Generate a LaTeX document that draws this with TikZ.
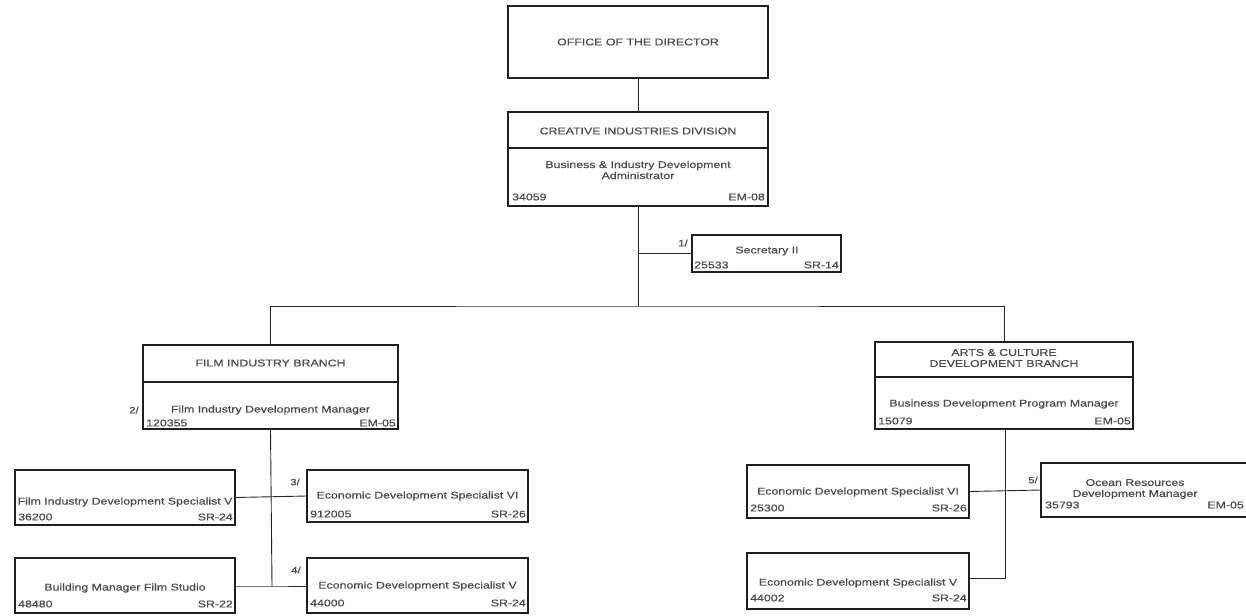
\documentclass[tikz,border=0pt]{standalone}
\usepackage{fontspec}
\setmainfont{Liberation Sans}[FakeStretch=1.26,FakeBold=0.7]
\begin{document}
\begin{tikzpicture}[x=1pt,y=-1pt,
  box/.style={draw=black!88, line width=1.2pt, rectangle, inner sep=0pt},
  link/.style={draw=black!85, line width=0.9pt},
  txt/.style={font=\fontsize{9.8}{11}\selectfont, text=black!70, inner sep=0pt, align=center},
  lnum/.style={txt, anchor=west},
  rnum/.style={txt, anchor=east},
  fn/.style={txt, font=\fontsize{9}{10}\selectfont}]
\useasboundingbox (0,0) rectangle (1246,615);
\clip (0,0) rectangle (1246,615);

% ---- boxes ----
\node[box, minimum width=260pt, minimum height=72pt] (dir) at (638,42) {};
\node[box, minimum width=260pt, minimum height=94pt] (cid) at (638,159) {};
\node[box, minimum width=149pt, minimum height=37pt] (sec) at (766.5,253.5) {};
\node[box, minimum width=255pt, minimum height=84pt] (film) at (270.5,387) {};
\node[box, minimum width=258pt, minimum height=87pt] (arts) at (1004,385.5) {};
\node[box, minimum width=220pt, minimum height=55pt] (fs5) at (125,497.5) {};
\node[box, minimum width=221pt, minimum height=52pt] (e6a) at (417.5,496) {};
\node[box, minimum width=220pt, minimum height=55pt] (bm) at (125,585.5) {};
\node[box, minimum width=221pt, minimum height=55pt] (e5a) at (417.5,585.5) {};
\node[box, minimum width=222pt, minimum height=53pt] (e6b) at (858,491.5) {};
\node[box, minimum width=217pt, minimum height=54pt] (ocean) at (1149.5,490) {};
\node[box, minimum width=222pt, minimum height=56pt] (e5b) at (858,581) {};

% ---- title dividers ----
\draw[box] (cid.west |- 0,148) -- (cid.east |- 0,148);
\draw[box] (film.west |- 0,382) -- (film.east |- 0,382);
\draw[box] (arts.west |- 0,377) -- (arts.east |- 0,377);

% ---- texts ----
\node[txt] (t-dir) at (638,42) {OFFICE OF THE DIRECTOR};
\node[txt] (t-cid) at (638,131) {CREATIVE INDUSTRIES DIVISION};
\node[txt] (t-cid2) at (638,170) {Business \& Industry Development\\Administrator};
\node[lnum] (n-cid) at (512,197) {34059};
\node[rnum] (g-cid) at (765,197) {EM-08};

\node[txt] (t-sec) at (767,251) {Secretary II};
\node[lnum] (n-sec) at (694,265) {25533};
\node[rnum] (g-sec) at (839,265) {SR-14};
\node[fn] (f1) at (683,243) {1/};

\node[txt] (t-film) at (270.5,363) {FILM INDUSTRY BRANCH};
\node[txt] (t-film2) at (270.5,410) {Film Industry Development Manager};
\node[lnum] (n-film) at (146,423) {120355};
\node[rnum] (g-film) at (396,423) {EM-05};
\node[fn] (f2) at (134,410) {2/};

\node[txt] (t-arts) at (1004,358) {ARTS \& CULTURE\\DEVELOPMENT BRANCH};
\node[txt] (t-arts2) at (1004,404) {Business Development Program Manager};
\node[lnum] (n-arts) at (878,421) {15079};
\node[rnum] (g-arts) at (1131,421) {EM-05};

\node[txt] (t-fs5) at (125,502) {Film Industry Development Specialist V};
\node[lnum] (n-fs5) at (18,517) {36200};
\node[rnum] (g-fs5) at (233,517) {SR-24};

\node[txt] (t-e6a) at (417.5,496) {Economic Development Specialist VI};
\node[lnum] (n-e6a) at (310,514) {912005};
\node[rnum] (g-e6a) at (526,514) {SR-26};
\node[fn] (f3) at (295,482) {3/};

\node[txt] (t-bm) at (125,588) {Building Manager Film Studio};
\node[lnum] (n-bm) at (18,604) {48480};
\node[rnum] (g-bm) at (233,604) {SR-22};

\node[txt] (t-e5a) at (417.5,586) {Economic Development Specialist V};
\node[lnum] (n-e5a) at (310,603) {44000};
\node[rnum] (g-e5a) at (526,603) {SR-24};
\node[fn] (f4) at (296,570) {4/};

\node[txt] (t-e6b) at (858,492) {Economic Development Specialist VI};
\node[lnum] (n-e6b) at (750,508) {25300};
\node[rnum] (g-e6b) at (967,508) {SR-26};

\node[txt] (t-ocean) at (1135,489) {Ocean Resources\\Development Manager};
\node[lnum] (n-ocean) at (1045,505) {35793};
\node[rnum] (g-ocean) at (1244,505) {EM-05};
\node[fn] (f5) at (1033,480) {5/};

\node[txt] (t-e5b) at (858,583) {Economic Development Specialist V};
\node[lnum] (n-e5b) at (750,598) {44002};
\node[rnum] (g-e5b) at (967,598) {SR-24};

% ---- connectors ----
\coordinate (hub) at (638,306);
\coordinate (fdrop) at (272,586);
\coordinate (adrop) at (1005,578);
\draw[link] (dir.south) -- (cid.north);
\draw[link] (cid.south) -- (hub);
\draw[link] (cid.south |- sec.west) -- (sec.west);
\draw[link] (film.north) |- (hub) -| (arts.north);
\draw[link] (film.south) -- (fdrop);
\draw[link] (fs5.east) -- (e6a.west);
\draw[link] (bm.east |- fdrop) -- (fdrop) -- (e5a.west |- fdrop);
\draw[link] (arts.south -| adrop) -- (adrop) -- (e5b.east |- adrop);
\draw[link] (e6b.east) -- (ocean.west);
\end{tikzpicture}
\end{document}
